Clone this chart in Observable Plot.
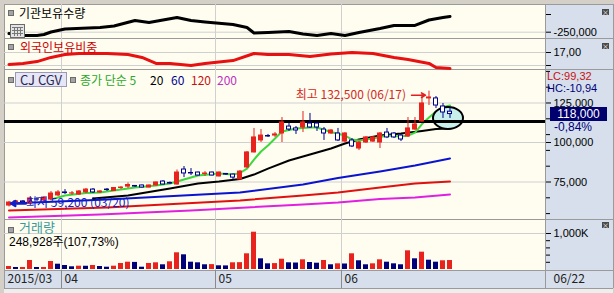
<!DOCTYPE html>
<html><head><meta charset="utf-8">
<script src="https://cdn.jsdelivr.net/npm/d3@7"></script>
<script src="https://cdn.jsdelivr.net/npm/@observablehq/plot@0.6"></script>
<style>
html,body{margin:0;padding:0;background:#d4d0c8;}
#wrap{position:relative;width:614px;height:293px;overflow:hidden;background:#d4d0c8;font-family:"Noto Sans CJK KR","Noto Sans",sans-serif;}
#wrap svg{position:absolute;}
</style></head>
<body><div id="wrap"></div>
<script>
// ---------- DATA ----------
const open  = [60100,61400,62700,61400,64000,63300,63900,66500,68400,67700,67100,68400,70200,68400,70200,69300,71200,72100,72500,72800,71500,72800,75300,74400,73400,82900,80700,81000,80100,81000,78500,80100,79700,76600,84200,93700,101300,104100,104400,105700,110100,108900,109500,112000,112000,108200,105700,105700,100600,101300,96200,100000,100600,100000,106300,105700,104400,103800,108200,113300,127900,127900,122800,119500];
const high  = [62700,63300,63300,65200,65200,65800,69000,69600,70200,69000,69600,70900,70900,69600,70900,71500,72100,74400,72800,73100,73100,75000,75900,75000,82600,84800,83500,81300,81600,81300,81300,80400,80100,82300,94300,108900,108200,105100,106300,115800,112000,110100,119600,118400,112700,109500,108200,108900,106300,102500,100600,103800,103800,106300,108900,106300,105100,115800,115800,131000,132500,129100,124700,122200];
const low   = [59200,60800,61400,60800,62700,62700,63300,65800,67100,66500,66500,67700,67700,67700,69000,69000,70200,70900,71500,71200,71200,72500,73100,73400,73100,77800,79100,78800,78500,78800,78200,79100,76600,76300,83500,93400,100000,103200,103200,100000,107000,105100,106300,108900,107000,101300,105100,100600,100000,96800,94900,99400,100000,96200,102500,102500,100600,103200,107600,112700,123400,121500,115200,115200];
const close = [62000,62700,62000,64600,63900,65200,67700,68400,68000,67800,69000,70200,68400,69000,69900,71200,71500,73100,72100,71500,72800,74700,73400,74000,81000,80400,80400,79100,80400,79100,81000,79700,77800,81600,93700,103200,104400,103800,105100,112700,108200,107600,112700,109500,109500,105700,107600,101300,105700,97500,100000,103200,103200,105700,103200,103200,101900,108900,111400,124700,128500,123400,119000,118000];
// volume in thousand shares
const volumeK = [83,56,56,250,56,56,222,147,111,75,92,90,111,83,64,92,167,203,197,64,167,186,131,214,464,408,203,186,131,136,103,100,186,190,436,1036,297,158,164,286,186,180,269,194,175,250,131,158,153,436,242,131,158,269,203,158,131,519,297,481,258,203,242,249];
// moving averages: [bar index, price]
const ma5   = [[6,63900],[8,66500],[11,68000],[13,68400],[15,69600],[18,71500],[21,72800],[23,74000],[25,76600],[27,79100],[30,80400],[32,79700],[33,80700],[34,83500],[35,89200],[36,94300],[37,98100],[38,102500],[39,107000],[41,108900],[43,109500],[44,109500],[46,106600],[48,104400],[49,101900],[50,101300],[52,102500],[54,104400],[56,103800],[57,104400],[58,106300],[59,111700],[60,115800],[61,119600],[62,122500],[63,123400]];
const ma20  = [[12,64600],[17,66500],[23,70900],[27,74000],[30,75300],[33,76900],[35,79700],[37,83500],[40,88600],[42,91100],[44,93700],[46,96200],[48,99400],[50,101900],[53,104400],[56,105700],[59,107300],[61,108500],[63,108900]];
const ma60  = [[0,61400],[14,63900],[33,68400],[42,73400],[47,77500],[53,81600],[58,85400],[63,89900]];
const ma120 = [[0,57000],[14,58900],[33,63300],[42,66500],[47,68400],[53,71500],[58,74000],[63,75300]];
const ma200 = [[0,52500],[13,54400],[26,57000],[42,60800],[47,62000],[53,64200],[58,65200],[63,67100]];
// institutional holdings (shares) and foreign ownership (%)
const inst = [[0,-253700],[2,-259300],[4,-259300],[5,-256500],[6,-249400],[8,-241000],[13,-236700],[15,-232500],[18,-217000],[20,-222600],[22,-215500],[24,-208500],[26,-217000],[28,-221200],[32,-228200],[34,-236700],[35,-252300],[37,-250800],[40,-248000],[42,-255100],[44,-259300],[46,-253700],[48,-259300],[50,-250800],[53,-239500],[55,-230900],[58,-230900],[60,-215500],[62,-208500],[63,-205600]];
const foreign = [[0,16.54],[2,16.58],[4,16.65],[6,16.81],[8,16.92],[10,16.96],[14,16.96],[17,16.92],[19,16.81],[21,16.58],[23,16.58],[26,16.50],[28,16.58],[32,16.69],[35,16.96],[37,16.92],[40,16.92],[43,16.85],[46,16.94],[49,17.00],[52,16.96],[55,16.81],[57,16.73],[60,16.58],[61,16.42],[63,16.38]];
// ticks / labels
const monthTicks  = [8,30,48];
const monthLabels = ["04","05","06"];
const firstLabel = "2015/03", lastLabel = "06/22";
const priceTicks = [125000,100000,75000];
const priceMinor = [145000,135000,115000,105000,95000,85000,65000,55000];
const instTicks = [-250000,-200000];
const foreignTicks = [17.00,16.50];
const volTicks = [1000], volMinor = [800,600,400,200];
const lineLevel = 113300;
const hiIdx = 60, hiPrice = 132500, hiText = "최고 132,500 (06/17)";
const loIdx = 0,  loPrice = 59200,  loText = "최저 59,200 (03/20)";
const lastPrice = 118000, lastPriceText = "118,000", chgText = "-0,84%";
const lcText = "LC:99,32", hcText = "HC:-10,94";
const volText = "248,928주(107,73%)";
const titleInst = "기관보유수량", titleForeign = "외국인보유비중", titleVol = "거래량";
const stockName = "CJ CGV";
const legendItems = ["종가 단순 5","20","60","120","200"];

// ---------- STYLE ----------
const FONT = '"Noto Sans CJK KR","Noto Sans",sans-serif';
const NUMFONT = '"Liberation Sans",Arial,sans-serif';
const MIXFONT = '"Liberation Sans","Noto Sans CJK KR",sans-serif';
const CREAM="#fefdf0", AXBG="#d6dfeb", BORDER="#9a9a9a", GRID="#d0d0d0";
const RED="#e8221c", NAVY="#00008a";
const XD = [-0.643, 76.643];
const wrap = document.getElementById("wrap");
function box(l,t,w,h,css){const d=document.createElement("div");d.style.cssText=`position:absolute;left:${l}px;top:${t}px;width:${w}px;height:${h}px;${css||""}`;wrap.appendChild(d);return d;}
function label(l,cy,txt,css,lh){lh=lh||12;const d=document.createElement("div");d.textContent=txt;d.style.cssText=`position:absolute;left:${l}px;top:${cy-lh/2}px;height:${lh}px;line-height:${lh}px;white-space:nowrap;font-size:12px;${css||""}`;wrap.appendChild(d);return d;}
function place(svg,l,t){svg.style.left=l+"px";svg.style.top=t+"px";wrap.appendChild(svg);return svg;}
const baseStyle = {background:"transparent", overflow:"visible", fontFamily:FONT, fontSize:"12px", color:"#000"};
const common = {width:610, margin:0, marginRight:69, style:baseStyle, x:{domain:XD, axis:null}};
const axisFont = {fontFamily:NUMFONT, fontSize:11};
const comma = d3.format(",");
const signedComma = d => (d<0?"-":"")+comma(Math.abs(d));

// backgrounds
box(4,4,541,266,`background:${CREAM}`);
box(545,4,68,284,`background:${AXBG}`);
box(4,270,541,18,`background:${AXBG}`);
box(4,288,609,5,`background:#eeeeee`);
[4,38,69,219,270,288].forEach(y=>box(4,y,609,1,`background:${BORDER}`));
[4,545,613].forEach(x=>box(x,4,1,284,`background:${BORDER}`));

// ---------- PANEL 1: institutional ----------
place(Plot.plot({...common, height:34, y:{domain:[-267800,-171750]},
  marks:[
    Plot.ruleY([-250000],{stroke:GRID}),
    Plot.ruleX(monthTicks,{x:d=>d-0.5,stroke:GRID}),
    Plot.line(inst,{x:d=>d[0],y:d=>d[1],stroke:"#000",strokeWidth:3}),
    Plot.axisY({anchor:"right",ticks:instTicks,tickSize:5,tickPadding:3,label:null,...axisFont,tickFormat:d=>d===-250000?signedComma(d):""})
  ]}),4,4);

// ---------- PANEL 2: foreign ----------
place(Plot.plot({...common, height:31, y:{domain:[16.346,17.538]},
  marks:[
    Plot.ruleY(foreignTicks,{stroke:GRID}),
    Plot.ruleX(monthTicks,{x:d=>d-0.5,stroke:GRID}),
    Plot.line(foreign,{x:d=>d[0],y:d=>d[1],stroke:"#e81010",strokeWidth:3}),
    Plot.axisY({anchor:"right",ticks:foreignTicks,tickSize:5,tickPadding:3,label:null,...axisFont,tickFormat:d=>d===17?d.toFixed(2).replace(".",","):""})
  ]}),4,38);

// ---------- PANEL 3: price ----------
const bars = open.map((o,i)=>({i,o,h:high[i],l:low[i],c:close[i]}));
const up = d => d.c >= d.o;
const pricePlot = Plot.plot({...common, height:150, y:{domain:[51270,146200]},
  marks:[
    Plot.ruleY(priceTicks,{stroke:GRID}),
    Plot.ruleX(monthTicks,{x:d=>d-0.5,stroke:GRID}),
    Plot.line(ma200,{x:d=>d[0],y:d=>d[1],stroke:"#e020e0",strokeWidth:2}),
    Plot.line(ma120,{x:d=>d[0],y:d=>d[1],stroke:"#e01010",strokeWidth:2}),
    Plot.line(ma60,{x:d=>d[0],y:d=>d[1],stroke:"#0a14d0",strokeWidth:2}),
    Plot.line(ma20,{x:d=>d[0],y:d=>d[1],stroke:"#000",strokeWidth:2}),
    Plot.line(ma5,{x:d=>d[0],y:d=>d[1],stroke:"#3cd83c",strokeWidth:2}),
    Plot.ruleY([lineLevel],{stroke:"#000",strokeWidth:3}),
    Plot.ruleX(bars,{x:"i",y1:"l",y2:"h",stroke:d=>up(d)?RED:NAVY,strokeWidth:1}),
    Plot.rect(bars,{x1:d=>d.i-0.286,x2:d=>d.i+0.286,y1:"o",y2:"c",fill:d=>up(d)?RED:"#ffffff",stroke:d=>up(d)?RED:NAVY,strokeWidth:1}),
    Plot.text([{i:hiIdx,p:hiPrice}],{x:"i",y:"p",text:()=>hiText,textAnchor:"end",dx:-23,dy:4,fill:"#d42a22",fontSize:12}),
    Plot.arrow([{i:hiIdx,p:hiPrice}],{x1:d=>d.i-2.5,x2:d=>d.i-0.5,y1:"p",y2:"p",dy:4,stroke:"#e02020",strokeWidth:1.5,headLength:6}),
    Plot.text([{i:loIdx,p:loPrice}],{x:"i",y:"p",text:()=>loText,textAnchor:"start",dx:17,dy:-3.5,fill:"#1020c8",fontSize:12}),
    Plot.arrow([{i:loIdx,p:loPrice}],{x1:d=>d.i+2.4,x2:d=>d.i+0.3,y1:"p",y2:"p",dy:-3.5,stroke:"#1020c8",strokeWidth:2.5,headLength:6}),
    Plot.axisY({anchor:"right",ticks:priceTicks,tickSize:5,tickPadding:3,label:null,...axisFont,tickFormat:comma}),
    Plot.axisY({anchor:"right",ticks:priceMinor,tickSize:4,label:null,tickFormat:()=>""})
  ]});
place(pricePlot,4,69);
{
  const xs = pricePlot.scale("x"), ys = pricePlot.scale("y");
  const cx = xs.apply(63)-1.5, cy = ys.apply(115200);
  const lvl = pricePlot.querySelector('g[stroke-width="3"]');
  const e = document.createElementNS("http://www.w3.org/2000/svg","ellipse");
  e.setAttribute("cx",cx); e.setAttribute("cy",cy); e.setAttribute("rx",15); e.setAttribute("ry",11);
  e.setAttribute("fill","#c9f1ec"); e.setAttribute("stroke","#000"); e.setAttribute("stroke-width",2);
  if (lvl && lvl.parentNode) lvl.parentNode.insertBefore(e,lvl); else pricePlot.appendChild(e);
  const py = 69 + ys.apply(lastPrice);
  const b = box(550,Math.round(py)-7,57,14,`background:#00006e;color:#fff;font-family:${NUMFONT};font-size:12px;line-height:14px;text-align:center;`);
  b.textContent = lastPriceText;
  label(554,Math.round(py)+13,chgText,`color:#00007a;font-family:${NUMFONT};`,11);
}

// ---------- PANEL 4: volume ----------
const vbars = volumeK.map((v,i)=>({i,v,up:i===0||v>=volumeK[i-1]}));
place(Plot.plot({...common, height:51, y:{domain:[-27.78,1388.9]},
  marks:[
    Plot.ruleY(volTicks,{stroke:GRID}),
    Plot.ruleX(monthTicks,{x:d=>d-0.5,stroke:GRID}),
    Plot.rect(vbars,{x1:d=>d.i-0.357,x2:d=>d.i+0.357,y1:()=>0,y2:"v",fill:d=>d.up?RED:"#00007a"}),
    Plot.axisY({anchor:"right",ticks:volTicks,tickSize:5,tickPadding:3,label:null,...axisFont,tickFormat:d=>comma(d)+"K"}),
    Plot.axisY({anchor:"right",ticks:volMinor,tickSize:4,label:null,tickFormat:()=>""})
  ]}),4,219);

// ---------- X STRIP ----------
place(Plot.plot({...common, height:18, y:{domain:[0,1],axis:null},
  marks:[
    Plot.ruleX(monthTicks,{x:d=>d-0.5,stroke:"#8a8a8a"}),
    Plot.text(monthTicks,{x:d=>d-0.5,text:(d,k)=>monthLabels[k],textAnchor:"start",dx:3,fill:"#222",fontSize:12}),
    Plot.text([firstLabel],{x:()=>-0.5,text:d=>d,textAnchor:"start",dx:2,fill:"#222",fontSize:12}),
    Plot.text([lastLabel],{frameAnchor:"right",text:d=>d,textAnchor:"start",dx:8,fill:"#222",fontSize:12})
  ]}),4,270);

// ---------- LABELS ----------
function sq(l,t){box(l,t,4,4,"background:#a4a4a4;border:1px solid #6c6c6c;");}
function closeBtn(t){const d=box(602,t,7,6,"background:#4a4a4a;color:#fff;font-size:7px;line-height:6px;text-align:center;");d.textContent="×";}
sq(8,10); label(19,13,titleInst,"color:#000;",14);
sq(8,44); label(20,47,titleForeign,"color:#d00000;",14);
const ic = box(10,24,13,12,"background:#e4e4e4;border:1px solid #6a6a6a;");
ic.innerHTML='<svg width="13" height="12" style="position:absolute;left:0;top:0"><path d="M3.5 2V11M6.5 2V11M9.5 2V11M1 2.5H12M1 5.5H12M1 8.5H12" stroke="#777" stroke-width="1" fill="none"/></svg>';
sq(8,77);
const nb = box(15,72,50,13,"background:#e6e6f6;border:1px solid #9a9ab8;color:#282850;font-size:13px;line-height:13px;text-align:center;");
nb.textContent = stockName;
sq(70,77);
const legColors = ["#2aa82a","#000","#000090","#c81010","#c030c0"];
const legX = [80,150,171,191,217];
legendItems.forEach((t,k)=>label(legX[k],79,t,`color:${legColors[k]};`,13));
sq(8,227); label(19,227.5,titleVol,`color:#3a9a9a;font-family:${MIXFONT};font-size:13px;`,12);
label(9,241.5,volText,`color:#000;font-family:${MIXFONT};`,12);
label(547,76.2,lcText,`color:#c81010;font-family:${NUMFONT};font-size:11px;`,11);
label(547,88.6,hcText,`color:#00007a;font-family:${NUMFONT};font-size:11px;`,11);
closeBtn(9); closeBtn(43); closeBtn(222);
</script>
</body></html>
